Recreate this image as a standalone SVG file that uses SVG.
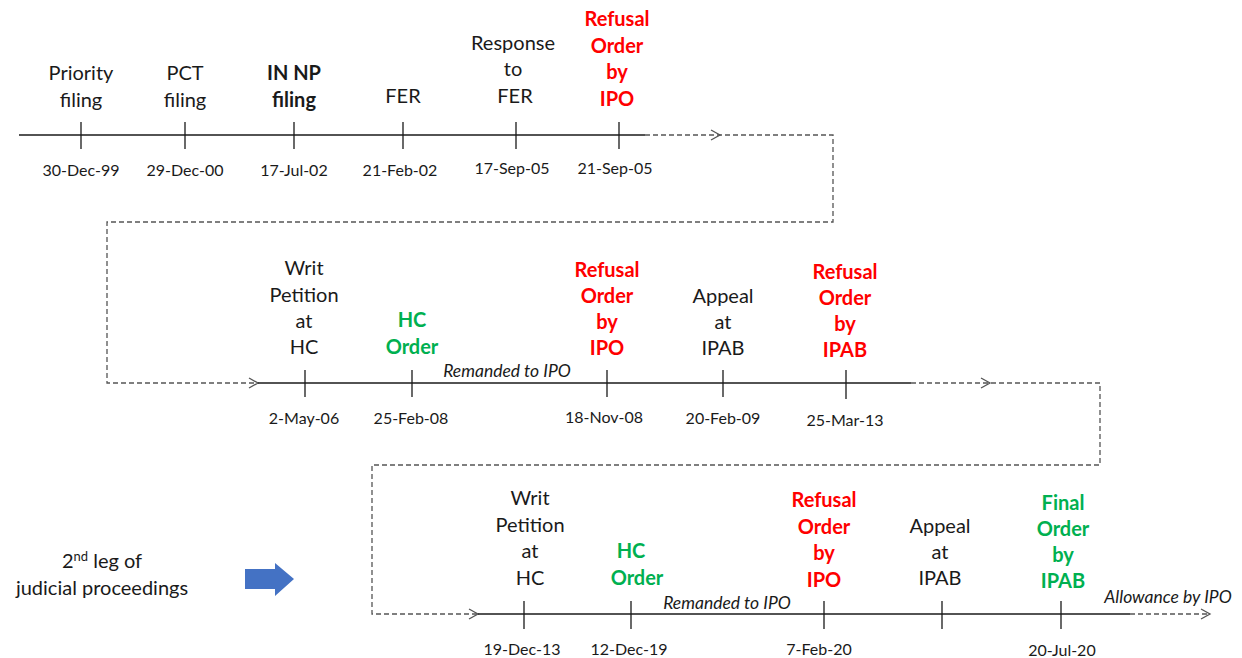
<svg xmlns="http://www.w3.org/2000/svg" width="1242" height="658" viewBox="0 0 1242 658">
<style>
text{font-family:Lato,"Open Sans","Liberation Sans",sans-serif;text-anchor:middle}
.lb{font-size:20px;fill:#1a1a1a}
.rd{font-size:20px;fill:#ff0000;font-weight:bold}
.gr{font-size:20px;fill:#00b050;font-weight:bold}
.bk{font-size:20px;fill:#1a1a1a;font-weight:bold}
.dt{font-size:16px;fill:#1a1a1a}
.it{font-size:17.5px;fill:#1a1a1a;font-style:italic}
.sol{stroke:#1a1a1a;stroke-width:1.3;fill:none}
.dsh{stroke:#555;stroke-width:1.3;fill:none;stroke-dasharray:5 3}
.tk{stroke:#1a1a1a;stroke-width:1.3}
.chev{stroke:#555;stroke-width:1.3;fill:none}
</style>
<g id="connectors">
<line class="sol" x1="19" y1="135" x2="645" y2="135"/>
<polyline class="dsh" points="645,135 833,135 833,222 107,222 107,383 258,383"/>
<path class="chev" d="M711,130 L720,135 L711,140"/>
<path class="chev" d="M249,378 L258,383 L249,388"/>
<line class="sol" x1="258" y1="383" x2="911" y2="383"/>
<polyline class="dsh" points="911,383 1100,383 1100,465 372,465 372,614 478,614"/>
<path class="chev" d="M981,378 L990,383 L981,388"/>
<path class="chev" d="M469,609 L478,614 L469,619"/>
<line class="sol" x1="478" y1="614" x2="1130" y2="614"/>
<line class="dsh" x1="1130" y1="614" x2="1210" y2="614"/>
<path class="chev" d="M1201,609 L1210,614 L1201,619"/>
</g>
<g id="n1"><line class="tk" x1="81" y1="122" x2="81" y2="149"/><text class="lb" x="81" y="80">Priority</text><text class="lb" x="81" y="107">filing</text><text class="dt" x="81" y="176">30-Dec-99</text></g>
<g id="n2"><line class="tk" x1="185" y1="122" x2="185" y2="149"/><text class="lb" x="185" y="80">PCT</text><text class="lb" x="185" y="107">filing</text><text class="dt" x="185" y="176">29-Dec-00</text></g>
<g id="n3"><line class="tk" x1="294" y1="122" x2="294" y2="149"/><text class="bk" x="294" y="80">IN NP</text><text class="bk" x="294" y="107">filing</text><text class="dt" x="294" y="176">17-Jul-02</text></g>
<g id="n4"><line class="tk" x1="403" y1="122" x2="403" y2="149"/><text class="lb" x="403" y="103">FER</text><text class="dt" x="400" y="176">21-Feb-02</text></g>
<g id="n5"><line class="tk" x1="516" y1="122" x2="516" y2="149"/><text class="lb" x="513" y="50">Response</text><text class="lb" x="513" y="76">to</text><text class="lb" x="515" y="103">FER</text><text class="dt" x="512" y="174">17-Sep-05</text></g>
<g id="n6"><line class="tk" x1="619" y1="122" x2="619" y2="149"/><text class="rd" x="617" y="26">Refusal</text><text class="rd" x="617" y="53">Order</text><text class="rd" x="617" y="79">by</text><text class="rd" x="617" y="106">IPO</text><text class="dt" x="615" y="174">21-Sep-05</text></g>

<g id="n7"><line class="tk" x1="305" y1="370" x2="305" y2="397"/><text class="lb" x="304" y="275">Writ</text><text class="lb" x="304" y="302">Petition</text><text class="lb" x="304" y="328">at</text><text class="lb" x="304" y="354">HC</text><text class="dt" x="304" y="424">2-May-06</text></g>
<g id="n8"><line class="tk" x1="412" y1="370" x2="412" y2="397"/><text class="gr" x="412" y="327">HC</text><text class="gr" x="412" y="354">Order</text><text class="dt" x="411" y="424">25-Feb-08</text></g>
<text class="it" x="507" y="377">Remanded to IPO</text>
<g id="n9"><line class="tk" x1="607" y1="370" x2="607" y2="397"/><text class="rd" x="607" y="277">Refusal</text><text class="rd" x="607" y="303">Order</text><text class="rd" x="607" y="329">by</text><text class="rd" x="607" y="355">IPO</text><text class="dt" x="604" y="423">18-Nov-08</text></g>
<g id="n10"><line class="tk" x1="723" y1="370" x2="723" y2="397"/><text class="lb" x="723" y="303">Appeal</text><text class="lb" x="723" y="329">at</text><text class="lb" x="723" y="355">IPAB</text><text class="dt" x="723" y="424">20-Feb-09</text></g>
<g id="n11"><line class="tk" x1="846" y1="370" x2="846" y2="399"/><text class="rd" x="845" y="279">Refusal</text><text class="rd" x="845" y="305">Order</text><text class="rd" x="845" y="331">by</text><text class="rd" x="845" y="357">IPAB</text><text class="dt" x="845" y="426">25-Mar-13</text></g>

<g id="n12"><line class="tk" x1="524" y1="601" x2="524" y2="629"/><text class="lb" x="530" y="505">Writ</text><text class="lb" x="530" y="532">Petition</text><text class="lb" x="530" y="558">at</text><text class="lb" x="530" y="585">HC</text><text class="dt" x="522" y="655">19-Dec-13</text></g>
<g id="n13"><line class="tk" x1="631" y1="601" x2="631" y2="629"/><text class="gr" x="631" y="558">HC</text><text class="gr" x="637" y="585">Order</text><text class="dt" x="629" y="655">12-Dec-19</text></g>
<text class="it" x="727" y="609">Remanded to IPO</text>
<g id="n14"><line class="tk" x1="824" y1="601" x2="824" y2="629"/><text class="rd" x="824" y="507">Refusal</text><text class="rd" x="824" y="534">Order</text><text class="rd" x="824" y="560">by</text><text class="rd" x="824" y="587">IPO</text><text class="dt" x="819" y="655">7-Feb-20</text></g>
<g id="n15"><line class="tk" x1="942" y1="601" x2="942" y2="629"/><text class="lb" x="940" y="533">Appeal</text><text class="lb" x="940" y="559">at</text><text class="lb" x="940" y="585">IPAB</text></g>
<g id="n16"><line class="tk" x1="1061" y1="601" x2="1061" y2="629"/><text class="gr" x="1063" y="510">Final</text><text class="gr" x="1063" y="536">Order</text><text class="gr" x="1063" y="562">by</text><text class="gr" x="1063" y="588">IPAB</text><text class="dt" x="1062" y="656">20-Jul-20</text></g>
<text class="it" x="1168" y="603">Allowance by IPO</text>

<g id="note"><text class="lb" x="102" y="568">2<tspan font-size="13" dy="-7">nd</tspan><tspan dy="7"> leg of</tspan></text><text class="lb" x="102" y="595">judicial proceedings</text></g>
<path id="bluearrow" d="M245,569 L275,569 L275,563 L294,579 L275,596 L275,589 L245,589 Z" fill="#4472c4"/>
</svg>
